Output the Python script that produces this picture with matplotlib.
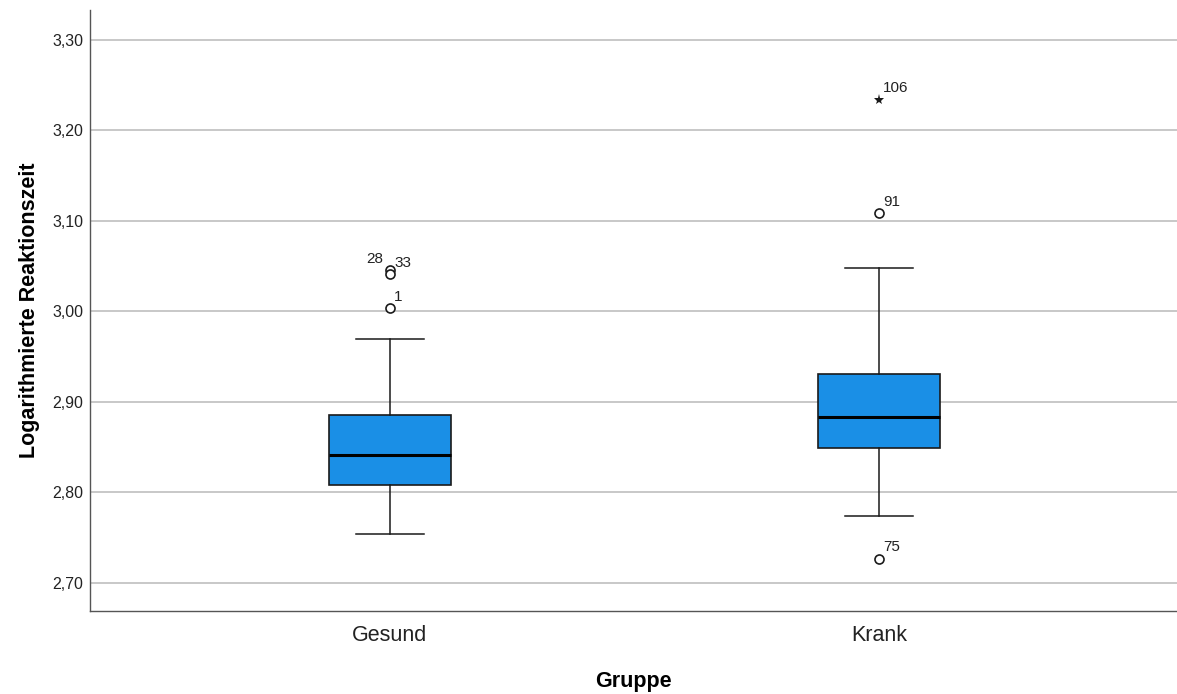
import matplotlib
matplotlib.use("Agg")
import matplotlib.pyplot as plt
from matplotlib.ticker import FixedLocator, FuncFormatter

# Box plot summary per group (log reaction time)
groups = ["Gesund", "Krank"]
q1 = [2.808, 2.849]
medians = [2.841, 2.883]
q3 = [2.886, 2.931]
whisker_low = [2.754, 2.774]
whisker_high = [2.970, 3.048]

# Outliers: (group index, value, case label, kind)
outlier_group = [0, 0, 0, 1, 1, 1]
outlier_value = [3.004, 3.046, 3.041, 3.109, 2.727, 3.234]
outlier_label = ["1", "28", "33", "91", "75", "106"]
outlier_kind = ["o", "o", "o", "o", "o", "*"]

y_ticks = [2.70, 2.80, 2.90, 3.00, 3.10, 3.20, 3.30]

plt.rcParams["font.family"] = ["Liberation Sans", "DejaVu Sans"]

fig = plt.figure(figsize=(11.77, 6.94), dpi=100)
ax = fig.add_axes([90 / 1177, 1 - 611 / 694, (1177 - 90) / 1177, (611 - 10) / 694])

stats = []
for i in range(len(groups)):
    stats.append({
        "label": groups[i],
        "q1": q1[i], "med": medians[i], "q3": q3[i],
        "whislo": whisker_low[i], "whishi": whisker_high[i],
        "fliers": [],
    })

positions = list(range(len(groups)))
ax.bxp(stats, positions=positions, widths=0.25, patch_artist=True,
       showfliers=False, showcaps=True,
       boxprops=dict(facecolor="#1a8fe6", edgecolor="#1a1a1a", linewidth=1.2),
       medianprops=dict(color="#000000", linewidth=2.2),
       whiskerprops=dict(color="#1a1a1a", linewidth=1.1),
       capprops=dict(color="#1a1a1a", linewidth=1.1),
       capwidths=0.14, zorder=3)

for g, v, lab, kind in zip(outlier_group, outlier_value, outlier_label, outlier_kind):
    if kind == "*":
        ax.plot(g, v, marker="*", markersize=8, color="#1a1a1a", markeredgewidth=0, zorder=4)
    else:
        ax.plot(g, v, marker="o", markersize=6.5, markerfacecolor="white",
                markeredgecolor="#1a1a1a", markeredgewidth=1.2, zorder=4)
    if lab == "28":
        ax.annotate(lab, (g, v), xytext=(-5, 3), textcoords="offset points",
                    ha="right", va="bottom", fontsize=11, color="#222222")
    else:
        ax.annotate(lab, (g, v), xytext=(3, 3), textcoords="offset points",
                    ha="left", va="bottom", fontsize=11, color="#222222")

ax.set_xlim(-0.613, 1.609)
ax.set_ylim(2.669, 3.333)
ax.yaxis.set_major_locator(FixedLocator(y_ticks))
ax.yaxis.set_major_formatter(FuncFormatter(lambda v, p: f"{v:.2f}".replace(".", ",")))
ax.set_xticks(positions)
ax.set_xticklabels(groups, fontsize=15.5, color="#222222")
ax.tick_params(axis="y", length=0, labelsize=11.5, pad=5, labelcolor="#222222")
ax.tick_params(axis="x", length=0, pad=10)

ax.grid(axis="y", color="#c8c8c8", linewidth=1.4, zorder=0)
ax.set_axisbelow(True)
for side in ("top", "right"):
    ax.spines[side].set_visible(False)
for side in ("left", "bottom"):
    ax.spines[side].set_color("#555555")
    ax.spines[side].set_linewidth(1.0)

ax.set_ylabel("Logarithmierte Reaktionszeit", fontsize=15.5, fontweight="bold", labelpad=9)
ax.set_xlabel("Gruppe", fontsize=15.5, fontweight="bold", labelpad=18)

fig.savefig("out.png", dpi=100)
